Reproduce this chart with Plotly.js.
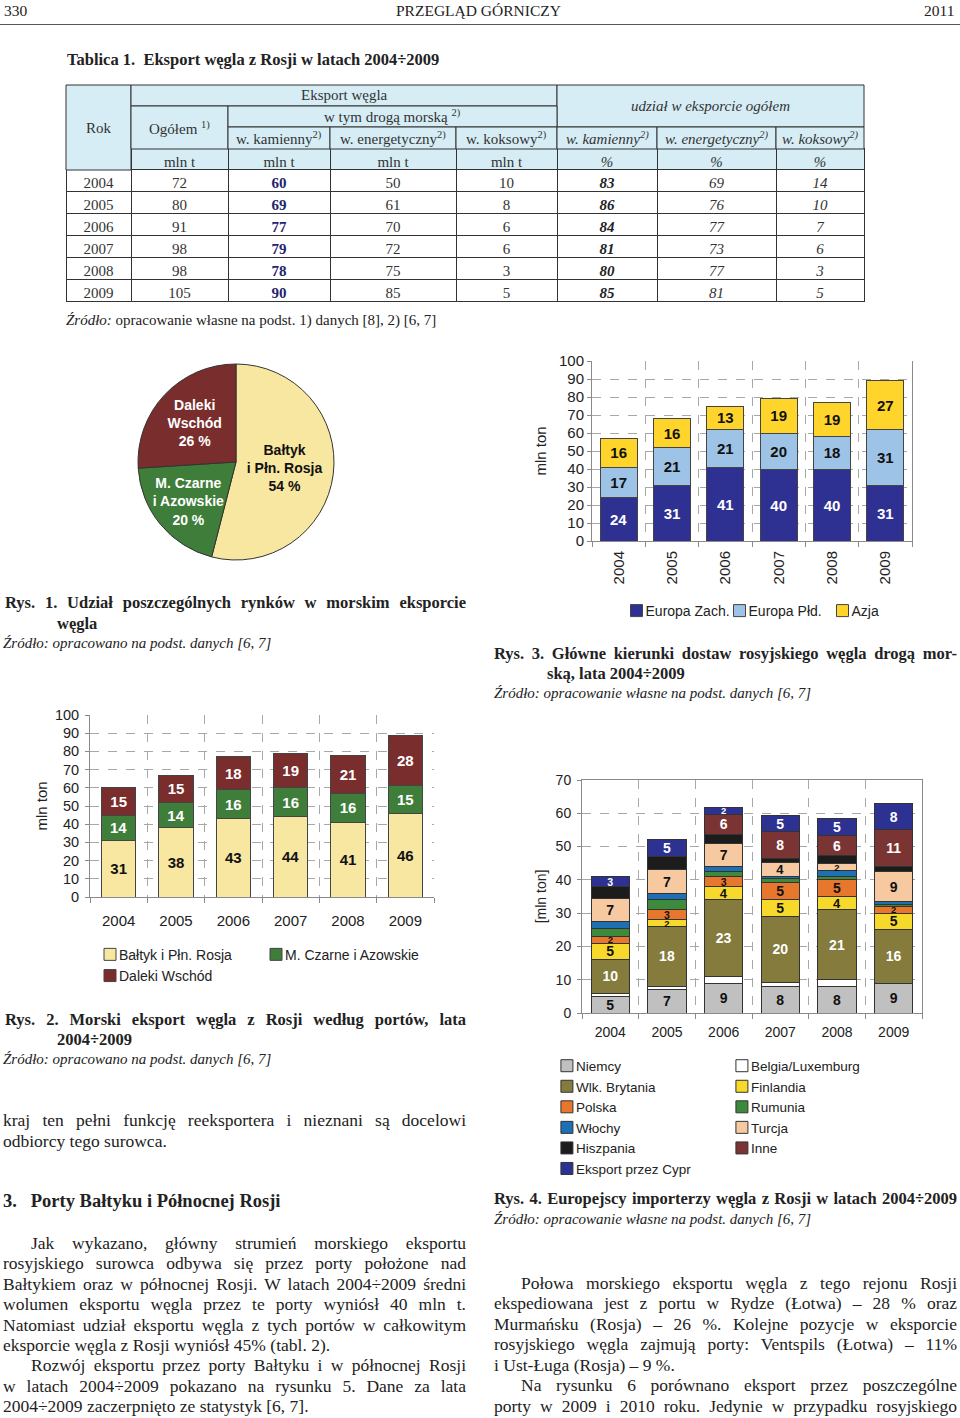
<!DOCTYPE html>
<html><head><meta charset="utf-8">
<script src="https://cdn.plot.ly/plotly-3.0.1.min.js"></script>
<style>
html,body{margin:0;padding:0;background:#fff;}
#page{position:relative;width:960px;height:1418px;overflow:hidden;background:#fff;color:#222;font-family:'Liberation Serif','Times New Roman',serif;}
.ln{position:absolute;white-space:nowrap;font-size:17.5px;line-height:20px;}
.b{font-weight:bold;}
.i{font-style:italic;}
.cap{font-size:16.5px;font-weight:bold;}
.src{font-size:15px;font-style:italic;}
.chart{position:absolute;}
.chart .legendtext{transform:translateX(-11px);}
</style></head><body><div id="page">

<div class="ln" style="left:4px;top:1px;font-size:15.5px;">330</div>
<div class="ln" style="left:396px;top:1px;font-size:15.5px;">PRZEGLĄD GÓRNICZY</div>
<div class="ln" style="left:924px;top:1px;font-size:15.5px;">2011</div>
<div style="position:absolute;left:0;top:24px;width:960px;height:1px;background:#555;"></div>

<div class="ln b" style="left:67px;top:50px;font-size:16.5px;">Tablica 1.&nbsp; Eksport węgla z Rosji w latach 2004÷2009</div>

<div class="chart" id="tbl" style="left:65px;top:84px;width:800px;height:220px;"></div>

<div class="ln" style="left:66px;top:310px;font-size:15px;"><span class="i">Źródło:</span> opracowanie własne na podst. 1) danych [8], 2) [6, 7]</div>

<div class="chart" id="pie" style="left:136px;top:362px;width:200px;height:200px;"></div>
<div class="chart" id="rys3" style="left:530px;top:350px;width:430px;height:300px;"></div>

<div class="ln cap j" data-w="461" style="left:5px;top:593px;">Rys. 1. Udział poszczególnych rynków w morskim eksporcie</div>
<div class="ln cap" style="left:57px;top:614px;">węgla</div>
<div class="ln src" style="left:3px;top:633px;">Źródło: opracowano na podst. danych [6, 7]</div>

<div class="ln cap j" data-w="463" style="left:494px;top:644px;">Rys. 3. Główne kierunki dostaw rosyjskiego węgla drogą mor-</div>
<div class="ln cap" style="left:547px;top:664px;">ską, lata 2004÷2009</div>
<div class="ln src" style="left:494px;top:683px;">Źródło: opracowanie własne na podst. danych [6, 7]</div>

<div class="chart" id="rys2" style="left:0px;top:700px;width:460px;height:320px;"></div>
<div class="chart" id="rys4" style="left:530px;top:770px;width:430px;height:460px;"></div>

<div class="ln cap j" data-w="461" style="left:5px;top:1010px;">Rys. 2. Morski eksport węgla z Rosji według portów, lata</div>
<div class="ln cap" style="left:57px;top:1030px;">2004÷2009</div>
<div class="ln src" style="left:3px;top:1049px;">Źródło: opracowano na podst. danych [6, 7]</div>

<div class="ln j" data-w="463" style="left:3px;top:1110px;">kraj ten pełni funkcję reeksportera i nieznani są docelowi</div>
<div class="ln" style="left:3px;top:1131px;">odbiorcy tego surowca.</div>
<div class="ln b" style="left:3px;top:1191px;font-size:18.5px;">3.&nbsp;&nbsp; Porty Bałtyku i Północnej Rosji</div>
<div class="ln j" data-w="435" style="left:31px;top:1233px;">Jak wykazano, główny strumień morskiego eksportu</div>
<div class="ln j" data-w="463" style="left:3px;top:1253px;">rosyjskiego surowca odbywa się przez porty położone nad</div>
<div class="ln j" data-w="463" style="left:3px;top:1274px;">Bałtykiem oraz w północnej Rosji. W latach 2004÷2009 średni</div>
<div class="ln j" data-w="463" style="left:3px;top:1294px;">wolumen eksportu węgla przez te porty wyniósł 40 mln t.</div>
<div class="ln j" data-w="463" style="left:3px;top:1315px;">Natomiast udział eksportu węgla z tych portów w całkowitym</div>
<div class="ln" style="left:3px;top:1335px;">eksporcie węgla z Rosji wyniósł 45% (tabl. 2).</div>
<div class="ln j" data-w="435" style="left:31px;top:1355px;">Rozwój eksportu przez porty Bałtyku i w północnej Rosji</div>
<div class="ln j" data-w="463" style="left:3px;top:1376px;">w latach 2004÷2009 pokazano na rysunku 5. Dane za lata</div>
<div class="ln" style="left:3px;top:1396px;">2004÷2009 zaczerpnięto ze statystyk [6, 7].</div>

<div class="ln cap j" data-w="463" style="left:494px;top:1189px;">Rys. 4. Europejscy importerzy węgla z Rosji w latach 2004÷2009</div>
<div class="ln src" style="left:494px;top:1209px;">Źródło: opracowanie własne na podst. danych [6, 7]</div>

<div class="ln j" data-w="436" style="left:521px;top:1273px;">Połowa morskiego eksportu węgla z tego rejonu Rosji</div>
<div class="ln j" data-w="463" style="left:494px;top:1293px;">ekspediowana jest z portu w Rydze (Łotwa) – 28 % oraz</div>
<div class="ln j" data-w="463" style="left:494px;top:1314px;">Murmańsku (Rosja) – 26 %. Kolejne pozycje w eksporcie</div>
<div class="ln j" data-w="463" style="left:494px;top:1334px;">rosyjskiego węgla zajmują porty: Ventspils (Łotwa) – 11%</div>
<div class="ln" style="left:494px;top:1355px;">i Ust-Ługa (Rosja) – 9 %.</div>
<div class="ln j" data-w="436" style="left:521px;top:1375px;">Na rysunku 6 porównano eksport przez poszczególne</div>
<div class="ln j" data-w="463" style="left:494px;top:1396px;">porty w 2009 i 2010 roku. Jedynie w przypadku rosyjskiego</div>

</div>
<script>
// ---------------- DATA ----------------
// Tablica 1
const tblYears = ['2004','2005','2006','2007','2008','2009'];
const tblOgolem = [72,80,91,98,98,105];
const tblKamienny = [60,69,77,79,78,90];
const tblEnergetyczny = [50,61,70,72,75,85];
const tblKoksowy = [10,8,6,6,3,5];
const tblUdzKamienny = [83,86,84,81,80,85];
const tblUdzEnergetyczny = [69,76,77,73,77,81];
const tblUdzKoksowy = [14,10,7,6,3,5];
const tblUnits = [' ', 'mln t','mln t','mln t','mln t','%','%','%'];
const tblHeadTop = ['Rok','Eksport węgla','udział w eksporcie ogółem'];
const tblHeadMid = ['Ogółem <sup>1)</sup>','w tym drogą morską <sup>2)</sup>'];
const tblHeadLow = ['w. kamienny<sup>2)</sup>','w. energetyczny<sup>2)</sup>','w. koksowy<sup>2)</sup>',
                    'w. kamienny<sup>2)</sup>','w. energetyczny<sup>2)</sup>','w. koksowy<sup>2)</sup>'];

// Rys. 1
const pieLabels = ['Bałtyk<br>i Płn. Rosja','M. Czarne<br>i Azowskie','Daleki<br>Wschód'];
const pieValues = [54,20,26];

// common categories
const years = ['2004','2005','2006','2007','2008','2009'];

// Rys. 2
const r2Names = ['Bałtyk i Płn. Rosja','M. Czarne i Azowskie','Daleki Wschód'];
const r2Baltyk = [31,38,43,44,41,46];
const r2Czarne = [14,14,16,16,16,15];
const r2Daleki = [15,15,18,19,21,28];

// Rys. 3
const r3Names = ['Europa Zach.','Europa Płd.','Azja'];
const r3Zach = [24,31,41,40,40,31];
const r3Pld = [17,21,21,20,18,31];
const r3Azja = [16,16,13,19,19,27];

// Rys. 4
const r4Names = ['Niemcy','Belgia/Luxemburg','Wlk. Brytania','Finlandia','Polska','Rumunia','Włochy','Turcja','Hiszpania','Inne','Eksport przez Cypr'];
const r4Niemcy = [5,7,9,8,8,9];
const r4Belgia = [1,1,2,1.1,2,0];
const r4Brytania = [10,18,23,20,21,16];
const r4Finlandia = [5,2,4,5,4,5];
const r4Polska = [2,3,3,5,5,2];
const r4Rumunia = [2.5,3,1.5,1.2,1,0.5];
const r4Wlochy = [2,2,1.5,0.8,1.8,1];
const r4Turcja = [7,7,7,4,2,9];
const r4Hiszpania = [3.5,4,2.7,1.3,2.5,1.5];
const r4Inne = [0,0,6,8,6,11];
const r4Cypr = [3,5,2,5,5,8];

// ---------------- STYLE ----------------
const cfg = {staticPlot:true, displayModeBar:false};
const SANS = 'Liberation Sans, Arial, sans-serif';
const SERIF = 'Liberation Serif, Times New Roman, serif';
const GRID = '#a8a8a8', AXIS = '#8a8a8a';

// ---------------- TABLE ----------------
(function(){
  const colW = [65,97,102,126,101,100,119,88];
  const edges=[0]; colW.forEach(w=>edges.push(edges[edges.length-1]+w));
  const tot = edges[edges.length-1];
  const pxx = i => edges[i]/tot;
  const rowY = [85,106,127,149,170];  // page y of header row boundaries
  const bottom = 303, H = 218;
  const pyy = r => (bottom - rowY[r])/H;
  const fill = '#d6edf6';
  const cellsSpec = [
    [0,1,0,4,tblHeadTop[0],false],
    [1,5,0,1,tblHeadTop[1],false],
    [5,8,0,2,tblHeadTop[2],true],
    [1,2,1,3,tblHeadMid[0],false],
    [2,5,1,2,tblHeadMid[1],false]
  ];
  tblHeadLow.forEach((t,k)=>cellsSpec.push([2+k,3+k,2,3,t,k>=3]));
  const shapes=[], ann=[];
  cellsSpec.forEach(([c0,c1,r0,r1,t,it])=>{
    shapes.push({type:'rect',xref:'paper',yref:'paper',layer:'above',x0:pxx(c0),x1:pxx(c1),y0:pyy(r1),y1:pyy(r0),
      fillcolor:fill,line:{color:'#333',width:1}});
    ann.push({xref:'paper',yref:'paper',x:(pxx(c0)+pxx(c1))/2,y:(pyy(r0)+pyy(r1))/2,xanchor:'center',yanchor:'middle',
      showarrow:false,text:it?'<i>'+t+'</i>':t,font:{family:SERIF,size:15,color:'#333'}});
  });
  const styleCol = ['normal','normal','normal','normal','normal','italic','italic','italic'];
  const weightCol = ['normal','normal','bold','normal','normal','bold','normal','normal'];
  const trace = {
    type:'table', columnwidth:colW,
    domain:{x:[0,1],y:[0,(bottom-rowY[3]+1)/H]},
    header:{values:tblUnits.map(u=>[u]),height:21,align:'center',
      fill:{color:fill},line:{color:'#333',width:1},
      font:{family:SERIF,size:15,color:'#333',style:styleCol}},
    cells:{values:[tblYears,tblOgolem,tblKamienny,tblEnergetyczny,tblKoksowy,tblUdzKamienny,tblUdzEnergetyczny,tblUdzKoksowy],
      height:22,align:'center',fill:{color:'#fff'},line:{color:'#333',width:1},
      font:{family:SERIF,size:15,color:['#333','#333','#24246e','#333','#333','#222','#333','#333'],
        weight:weightCol,style:styleCol}}
  };
  Plotly.newPlot('tbl',[trace],{width:800,height:220,margin:{l:1,r:1,t:1,b:1},paper_bgcolor:'rgba(0,0,0,0)',
    shapes:shapes,annotations:ann},cfg);
})();

// ---------------- PIE (Rys. 1) ----------------
Plotly.newPlot('pie',[{
  type:'pie',labels:pieLabels,values:pieValues,sort:false,direction:'clockwise',rotation:0,
  marker:{colors:['#f8e7a0','#3f7d3a','#7a2d2d'],line:{color:'#333',width:1}},
  textposition:'inside',insidetextorientation:'horizontal',
  texttemplate:'%{label}<br>%{value} %',
  textfont:{family:SANS,size:14,weight:'bold',color:['#111','#fff','#fff']},
  hoverinfo:'none'
}],{width:200,height:200,margin:{l:2,r:2,t:2,b:2},showlegend:false,paper_bgcolor:'rgba(0,0,0,0)',
  uniformtext:{mode:'show',minsize:14}},cfg);

// ---------------- helpers ----------------
function barTrace(name,vals,color,txtColor){
  return {type:'bar',name:name,x:years,y:vals,marker:{color:color,line:{color:'#444',width:1}},
    text:vals.map(v=>v>0?String(v):''),texttemplate:'%{text}',textposition:'inside',insidetextanchor:'middle',
    constraintext:'none',textangle:0,textfont:{family:SANS,size:15,weight:'bold',color:txtColor},hoverinfo:'none'};
}
function catAxis(extra){
  return Object.assign({type:'category',tickson:'boundaries',ticks:'outside',ticklen:5,tickcolor:AXIS,
    showgrid:true,gridcolor:GRID,griddash:'dash',gridwidth:1,showline:true,linecolor:AXIS,linewidth:1,
    tickfont:{family:SANS,size:15,color:'#222'},fixedrange:true},extra||{});
}
function valAxis(extra){
  return Object.assign({dtick:10,ticks:'outside',ticklen:4,tickcolor:AXIS,showgrid:true,gridcolor:GRID,griddash:'dash',
    gridwidth:1,showline:true,linecolor:AXIS,linewidth:1,zeroline:false,
    tickfont:{family:SANS,size:15,color:'#222'},fixedrange:true},extra||{});
}
const legFont = {family:SANS,size:14,color:'#222'};

// ---------------- Rys. 2 ----------------
Plotly.newPlot('rys2',[
  barTrace(r2Names[0],r2Baltyk,'#f8e7a0','#111'),
  barTrace(r2Names[1],r2Czarne,'#3f7d3a','#fff'),
  barTrace(r2Names[2],r2Daleki,'#7a2d2d','#fff')
],{
  width:460,height:320,margin:{l:90,r:26,t:15,b:123.3},barmode:'stack',bargap:0.4,
  paper_bgcolor:'rgba(0,0,0,0)',plot_bgcolor:'#fff',font:{family:SANS,size:14,color:'#222'},
  xaxis:catAxis({ticklabelstandoff:10}),
  yaxis:valAxis({range:[0,100],tickfont:{family:SANS,size:14.5,color:'#222'},ticklabelstandoff:3,
    title:{text:'mln ton',standoff:3,font:{family:SANS,size:15,color:'#222'}}}),
  showlegend:true,
  legend:{orientation:'h',x:0,xanchor:'left',y:-0.2295,yanchor:'top',entrywidth:121,traceorder:'normal',
    font:legFont,bgcolor:'rgba(0,0,0,0)'}
},cfg);

// ---------------- Rys. 3 ----------------
Plotly.newPlot('rys3',[
  barTrace(r3Names[0],r3Zach,'#2e3192','#fff'),
  barTrace(r3Names[1],r3Pld,'#9dc3e6','#111'),
  barTrace(r3Names[2],r3Azja,'#ffd52b','#111')
],{
  width:430,height:300,margin:{l:62,r:48,t:10.7,b:109.3},barmode:'stack',bargap:0.31,
  paper_bgcolor:'rgba(0,0,0,0)',plot_bgcolor:'#fff',font:{family:SANS,size:14,color:'#222'},
  xaxis:catAxis({tickangle:-90,ticklabelstandoff:3}),
  yaxis:valAxis({range:[0,100],mirror:true,
    title:{text:'mln ton',standoff:8,font:{family:SANS,size:15,color:'#222'}}}),
  showlegend:true,
  legend:{orientation:'h',x:0.0766,xanchor:'left',y:-0.3,yanchor:'top',entrywidth:58,traceorder:'normal',
    font:legFont,bgcolor:'rgba(0,0,0,0)'}
},cfg);

// ---------------- Rys. 4 ----------------
(function(){
  const series = [r4Niemcy,r4Belgia,r4Brytania,r4Finlandia,r4Polska,r4Rumunia,r4Wlochy,r4Turcja,r4Hiszpania,r4Inne,r4Cypr];
  const colors = ['#c0c0c0','#ffffff','#847b3c','#f7d92b','#e8772e','#3d8a3d','#1f6fb4','#f7c9a1','#1c1c1c','#7b3434','#2d3191'];
  const txtCol = ['#111','#111','#fff','#111','#111','#fff','#fff','#111','#fff','#fff','#fff'];
  const labelled = [true,false,true,true,true,false,false,true,false,true,true];
  const traces = series.map((vals,k)=>{
    const t = barTrace(r4Names[k],vals,colors[k],txtCol[k]);
    t.marker.line = {color:'#333',width:1};
    t.textfont.size = vals.map(v => v < 3 ? 9.5 : (v < 4 ? 10.5 : (v < 5 ? 13 : 14)));
    if(!labelled[k]){ t.textposition='none'; delete t.text; delete t.texttemplate; }
    return t;
  });
  Plotly.newPlot('rys4',traces,{
    width:430,height:460,margin:{l:52,r:38,t:10,b:217.3},barmode:'stack',bargap:0.32,
    paper_bgcolor:'rgba(0,0,0,0)',plot_bgcolor:'#fff',font:{family:SANS,size:14,color:'#222'},
    xaxis:catAxis({mirror:true,tickfont:{family:SANS,size:14,color:'#222'},ticklabelstandoff:6}),
    yaxis:valAxis({range:[0,70],mirror:true,tickfont:{family:SANS,size:14,color:'#222'},ticklabelstandoff:3,
      title:{text:'[mln ton]',standoff:5,font:{family:SANS,size:14,color:'#222'}}}),
    showlegend:true,
    legend:{orientation:'h',x:-0.1032,xanchor:'left',y:-0.1607,yanchor:'top',entrywidth:130,traceorder:'normal',
      font:{family:SANS,size:13.5,color:'#222'},bgcolor:'rgba(0,0,0,0)'}
  },cfg);
})();

// ---------------- justify text lines ----------------
function fitLines(){
  document.querySelectorAll('.ln[data-w]').forEach(el=>{
    el.style.wordSpacing='0px'; el.style.letterSpacing='0px'; el.style.width='auto';
    const target = parseFloat(el.dataset.w);
    const nat = el.getBoundingClientRect().width;
    const txt = el.textContent;
    const spaces = (txt.match(/[ \u00a0]/g)||[]).length;
    if(nat > target){ el.style.letterSpacing = (-(nat-target)/txt.length)+'px'; }
    else if(spaces>0){ el.style.wordSpacing = ((target-nat)/spaces)+'px'; }
  });
}
fitLines();
if(document.fonts && document.fonts.ready) document.fonts.ready.then(fitLines);
</script>
</body></html>
